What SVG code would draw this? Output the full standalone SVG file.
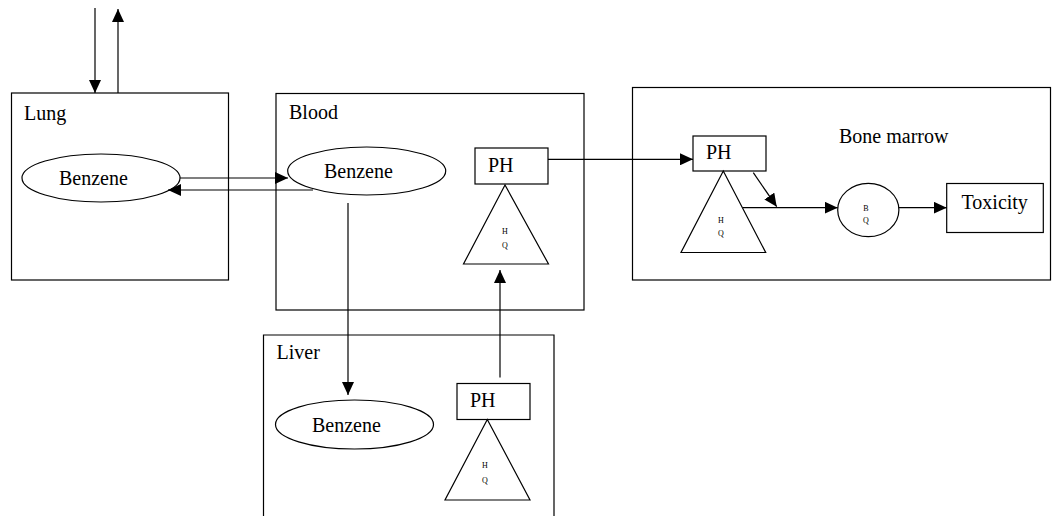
<svg xmlns="http://www.w3.org/2000/svg" width="1052" height="516" viewBox="0 0 1052 516">
<style>
.box{fill:none;stroke:#000;stroke-width:1.2}
.shape{fill:#fff;stroke:#000;stroke-width:1.2}
.t{font-family:"Liberation Serif","Times New Roman",serif;font-size:20px;fill:#000}
.s{font-family:"Liberation Serif","Times New Roman",serif;font-size:8px;fill:#000;text-anchor:middle}
.c{fill:none;stroke:#000;stroke-width:1.2}
</style>
<defs>
<marker id="ah" markerUnits="userSpaceOnUse" markerWidth="13" markerHeight="12" refX="13" refY="6" orient="auto">
<path d="M0,0 L13,6 L0,12 Z" fill="#000"/>
</marker>
</defs>
<rect width="1052" height="516" fill="#fff"/>
<g id="lung">
<rect class="box" x="11.5" y="93" width="217" height="187"/>
<text class="t" x="24" y="120">Lung</text>
</g>
<g id="lung-benzene">
<ellipse class="shape" cx="101" cy="178" rx="79" ry="24"/>
<text class="t" x="59" y="185">Benzene</text>
</g>
<g id="blood">
<rect class="box" x="276" y="93.5" width="308" height="216.5"/>
<text class="t" x="289" y="119">Blood</text>
</g>
<g id="blood-benzene">
<ellipse class="shape" cx="366.7" cy="171" rx="79" ry="24"/>
<text class="t" x="324" y="178">Benzene</text>
</g>
<g id="blood-ph">
<rect class="shape" x="475" y="148" width="73" height="36"/>
<text class="t" x="488" y="171.5">PH</text>
</g>
<g id="blood-hq">
<polygon class="shape" points="505,185 463.5,264 548.5,264"/>
<text class="s" x="505" y="234">H</text>
<text class="s" x="505" y="247.5">Q</text>
</g>
<g id="bone-marrow">
<rect class="box" x="632.5" y="87.5" width="418" height="192.5"/>
<text class="t" x="839" y="143">Bone marrow</text>
</g>
<g id="bm-ph">
<rect class="shape" x="693" y="136" width="73" height="35"/>
<text class="t" x="706" y="159">PH</text>
</g>
<g id="bm-hq">
<polygon class="shape" points="723.3,171 681,252.5 765.7,252.5"/>
<text class="s" x="721" y="223">H</text>
<text class="s" x="721" y="235.5">Q</text>
</g>
<g id="bq">
<ellipse class="shape" cx="868.3" cy="210" rx="30.6" ry="26.7"/>
<text class="s" x="866" y="210.5">B</text>
<text class="s" x="866" y="222.5">Q</text>
</g>
<g id="toxicity">
<rect class="shape" x="946.7" y="183.5" width="96.6" height="49"/>
<text class="t" x="961.5" y="209">Toxicity</text>
</g>
<g id="liver">
<path class="box" d="M263.5,516 V335 H554 V516"/>
<text class="t" x="276.5" y="359">Liver</text>
</g>
<g id="liver-benzene">
<ellipse class="shape" cx="354.5" cy="424.5" rx="79" ry="24.5"/>
<text class="t" x="312" y="431.5">Benzene</text>
</g>
<g id="liver-ph">
<rect class="shape" x="457" y="383.5" width="73" height="36"/>
<text class="t" x="470" y="407">PH</text>
</g>
<g id="liver-hq">
<polygon class="shape" points="487.3,419.5 445,500 530,500"/>
<text class="s" x="485" y="468">H</text>
<text class="s" x="485" y="483">Q</text>
</g>
<g id="connectors">
<line class="c" x1="95" y1="8" x2="95" y2="93" marker-end="url(#ah)"/>
<line class="c" x1="118" y1="93" x2="118" y2="9" marker-end="url(#ah)"/>
<line class="c" x1="180" y1="178" x2="288" y2="178" marker-end="url(#ah)"/>
<line class="c" x1="313" y1="190" x2="168" y2="190" marker-end="url(#ah)"/>
<line class="c" x1="348" y1="203" x2="348" y2="395" marker-end="url(#ah)"/>
<line class="c" x1="500" y1="377.5" x2="500" y2="270" marker-end="url(#ah)"/>
<line class="c" x1="548" y1="159.3" x2="693" y2="159.3" marker-end="url(#ah)"/>
<line class="c" x1="753.3" y1="172.7" x2="776.7" y2="206.7" marker-end="url(#ah)"/>
<line class="c" x1="742.7" y1="207.7" x2="837.7" y2="207.7" marker-end="url(#ah)"/>
<line class="c" x1="899" y1="207.7" x2="946.7" y2="207.7" marker-end="url(#ah)"/>
</g>
</svg>
